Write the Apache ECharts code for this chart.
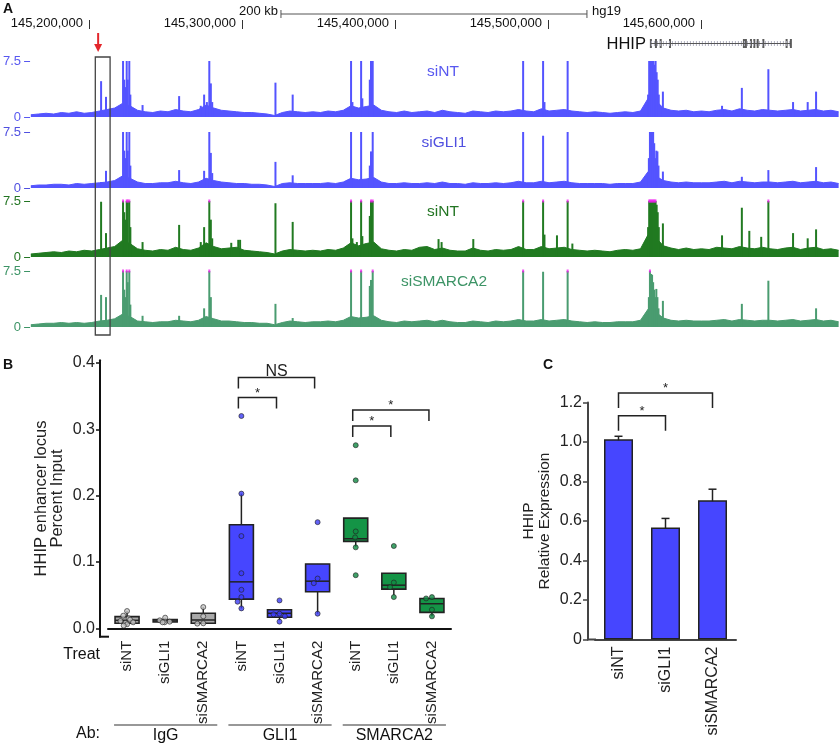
<!DOCTYPE html>
<html><head><meta charset="utf-8">
<script src="https://cdn.jsdelivr.net/npm/echarts@6/dist/echarts.min.js"></script>
<style>html,body{margin:0;padding:0;background:#fff}#c{width:840px;height:745px}</style>
</head><body><div id="c"></div>
<script>
const FONT = '"Liberation Sans", Arial, Helvetica, sans-serif';

// ---------- Panel A data (positions in kb, chr4) ----------
const rulerTicks = [145200, 145300, 145400, 145500, 145600];
const scaleBarStart = 145325.5, scaleBarKb = 200;
const trackNames = ['siNT', 'siGLI1', 'siNT', 'siSMARCA2'];
const noiseStart = 145160, noiseStep = 5;
const noiseT1 = [0.3,0.4,0.5,0.4,0.6,0.5,0.7,0.5,0.6, 0.8,1.0,1.2,1.8,1.5,0.9, 0.7,0.6,0.8,0.7,1.0,0.8, 0.7,1.0,1.6,1.2,0.9,0.8,0.7, 0.6,0.6,0.5,0.4,0.2,0.6, 0.8,0.7,0.6,0.7,0.6,0.8,0.7,0.9, 1.5,1.2,1.4,1.6,0.9, 0.7,0.6,0.8,0.6,0.7,0.8,0.6,0.9, 0.7,0.6,0.5,0.8,0.7,0.6,0.8,0.7,0.8, 1.0,0.8,0.7,1.1,0.8,0.9,1.0,0.8,0.7, 0.6,0.7,0.6,0.5,0.6,0.7,0.6,0.8, 2.5,2.2,1.2,0.9, 0.8,0.9,0.7,0.8,0.7,0.9,1.0,0.8,1.1,0.9,0.8, 1.0,0.9,0.8,0.9,1.0,0.8,0.9,1.0,0.8,0.9,0.7];
const noiseT2 = [0.3,0.4,0.4,0.5,0.5,0.4,0.6,0.5,0.6, 0.7,0.8,1.0,1.6,1.3,0.8, 0.6,0.6,0.7,0.7,0.9,0.7, 0.6,0.8,1.3,1.0,0.8,0.7,0.6, 0.6,0.5,0.5,0.4,0.2,0.6, 0.7,0.6,0.6,0.6,0.6,0.7,0.6,0.8, 1.3,1.1,1.2,1.4,0.8, 0.6,0.6,0.7,0.6,0.6,0.7,0.6,0.8, 0.6,0.6,0.5,0.7,0.6,0.6,0.7,0.6,0.7, 0.9,0.7,0.7,0.9,0.7,0.8,0.9,0.7,0.6, 0.6,0.6,0.6,0.5,0.6,0.6,0.6,0.8, 2.2,1.6,1.0,0.8, 0.7,0.8,0.7,0.7,0.7,0.8,0.9,0.7,0.9,0.8,0.7, 0.8,0.8,0.7,0.8,0.9,0.7,0.8,0.9,0.7,0.8,0.6];
const noiseT3 = [0.4,0.5,0.6,0.7,0.6,0.8,0.7,0.9,0.8, 1.0,1.2,1.4,2.2,1.8,1.1, 0.9,0.8,1.0,0.9,1.3,1.0, 0.9,1.2,1.9,1.4,1.1,1.2,1.3, 0.9,0.8,0.7,0.6,0.4,0.8, 1.0,0.9,0.8,0.9,0.8,1.0,0.9,1.2, 1.9,1.5,1.8,2.0,1.1, 0.9,0.8,1.0,0.9,1.3,1.4,1.0,1.2, 0.9,0.8,0.8,1.2,0.9,0.8,1.0,0.9,1.0, 1.4,1.0,1.0,1.4,1.1,1.2,1.3,1.0,0.9, 0.8,0.9,0.8,0.7,0.9,1.0,0.9,1.1, 3.0,2.6,1.5,1.2, 1.0,1.2,1.0,1.1,1.0,1.3,1.2,1.1,1.4,1.2,1.1, 1.3,1.1,1.0,1.2,1.3,1.0,1.2,1.3,1.0,1.1,0.9];
const noiseT4 = [0.3,0.4,0.5,0.5,0.6,0.5,0.6,0.5,0.6, 0.8,0.9,1.1,1.7,1.4,0.8, 0.7,0.6,0.7,0.7,0.9,0.8, 0.7,0.9,1.4,1.1,0.8,0.8,0.7, 0.6,0.6,0.5,0.5,0.3,0.6, 0.8,0.7,0.6,0.7,0.7,0.8,0.7,0.9, 1.4,1.2,1.3,1.5,0.9, 0.7,0.6,0.8,0.7,0.8,0.9,0.7,0.9, 0.7,0.6,0.6,0.8,0.7,0.6,0.8,0.7,0.8, 1.0,0.8,0.8,1.0,0.8,0.9,1.0,0.8,0.7, 0.6,0.7,0.6,0.6,0.7,0.7,0.7,0.9, 2.4,2.0,1.2,0.9, 0.8,0.9,0.8,0.8,0.8,0.9,1.0,0.8,1.0,0.9,0.8, 0.9,0.9,0.8,0.9,1.0,0.8,0.9,1.0,0.8,0.9,0.7];
// peaks: [position kb, signal]; values above 7.5 are clipped by the 7.5 view limit
const peaksT1 = [[145206.1,4.8],[145209.3,2.7],[145220.5,9],[145221.3,5],[145222.0,4],[145222.9,9],[145223.6,5],[145224.6,9],[145225.3,3],[145233.3,1.6],[145257.3,2.8],[145271.5,1.5],[145273.7,3.0],[145275.5,2.0],[145277.1,9],[145278.1,4.5],[145279,2],[145320.5,4.6],[145331.8,3.0],[145370.1,9],[145371,2],[145376.7,9],[145377.5,2.5],[145382.4,5],[145383.2,9],[145384.3,9],[145483.0,9],[145496.1,9],[145497,2],[145512.2,9],[145565.0,3],[145565.7,9],[145566.4,9],[145567.1,8],[145567.8,9],[145568.5,9],[145569.2,7],[145569.9,9],[145570.6,6],[145571.3,5],[145572,3],[145574.7,3.4],[145613.5,1.5],[145626.5,3.9],[145643.9,6.4],[145660.1,2],[145669.7,2],[145675.2,3.4]];
const peaksT2 = [[145206.1,0.8],[145209.3,2.3],[145220.5,9],[145221.3,5],[145222,4],[145222.9,9],[145223.6,5],[145224.6,9],[145225.3,3],[145257.3,2.4],[145273.7,2.3],[145277.1,9],[145278.1,4.7],[145279,2],[145320.5,3.5],[145331.8,1.7],[145370.1,9],[145376.7,9],[145382.4,3],[145383.2,4.9],[145384.3,9],[145483.0,9],[145496.1,7.0],[145512.2,9],[145565.5,4],[145566.2,9],[145566.9,9],[145567.6,9],[145568.3,9],[145569,6],[145569.7,4],[145570.4,5],[145571.1,4.9],[145571.8,3],[145574.7,2.2],[145626.5,1.5],[145643.9,2.4],[145675.2,2.8]];
const peaksT3 = [[145206.1,7.4],[145209.3,3.2],[145220.5,10],[145221.3,6],[145222,5],[145222.9,10],[145223.6,10],[145224.6,10],[145225.3,4],[145233.3,2.0],[145257.3,4.3],[145271.5,2.0],[145273.7,4.0],[145277.1,10],[145278.1,5],[145279,2.5],[145291.5,1.9],[145296.1,2.3],[145297.3,2.3],[145320.5,7.2],[145331.8,4.7],[145370.1,10],[145371,2.5],[145373.9,2.0],[145376.7,10],[145377.5,2.8],[145382.4,5.5],[145383.2,10],[145384.3,10],[145427.5,2.4],[145429.5,2.0],[145450.3,2.4],[145483.0,10],[145496.1,10],[145497,3],[145505.2,2.9],[145512.2,10],[145515.3,1.8],[145565,4],[145565.7,10],[145566.4,10],[145567.1,9],[145567.8,10],[145568.5,10],[145569.2,8],[145569.9,10],[145570.6,7],[145571.3,6],[145572,4],[145574.7,4.5],[145613.5,2.9],[145626.5,6.6],[145631.4,3.5],[145639.2,2.7],[145643.9,10],[145660.1,3.2],[145669.7,2.5],[145675.2,3.7]];
const peaksT4 = [[145206.1,4.3],[145209.3,4.0],[145220.5,10],[145221.3,5],[145222,4],[145222.9,10],[145223.6,6],[145224.6,10],[145225.3,3],[145233.3,1.5],[145257.3,1.5],[145273.7,2.5],[145277.1,10],[145278.1,4],[145320.5,3.1],[145331.8,1.2],[145370.1,10],[145376.7,10],[145382.4,5.5],[145383.2,6.3],[145384.3,10],[145483.0,10],[145496.1,7.4],[145512.2,10],[145565.5,4],[145566.2,10],[145566.9,7.1],[145567.6,7],[145568.3,6],[145569,5],[145569.7,4],[145570.4,5.1],[145571.1,4],[145571.8,2.5],[145574.7,3.5],[145626.5,3.1],[145643.9,6.2],[145675.2,2.5]];
const geneName = 'HHIP';
const geneHHIP = [145567.3, 145658.8];
const hhipExons = [145567.3,145570.6,145573.7,145579.8,145628.1,145629.4,145632.7,145634.9,145637.1,145640.8,145656.0,145658.8];
const arrowPos = 145206;
const boxRange = [145202.3, 145212];

// ---------- Panel B data ----------
const treatCats = ['siNT','siGLI1','siSMARCA2','siNT','siGLI1','siSMARCA2','siNT','siGLI1','siSMARCA2'];
const abGroups = ['IgG','GLI1','SMARCA2'];
// [min, Q1, median, Q3, max]
const boxStats = [
  [0.004,0.0075,0.012,0.0175,0.026],
  [0.009,0.0095,0.011,0.013,0.016],
  [0.007,0.0075,0.0125,0.0226,0.032],
  [0.030,0.044,0.070,0.156,0.203],
  [0.012,0.0166,0.0226,0.028,0.028],
  [0.022,0.055,0.071,0.097,0.097],
  [0.123,0.131,0.135,0.166,0.166],
  [0.050,0.059,0.065,0.083,0.083],
  [0.018,0.024,0.037,0.045,0.046]
];
const pointsB = [
  [0.026,0.019,0.015,0.013,0.011,0.009,0.008,0.006,0.004],
  [0.016,0.012,0.010,0.009,0.009],
  [0.032,0.018,0.0075,0.007],
  [0.320,0.203,0.139,0.083,0.058,0.047,0.040,0.030],
  [0.042,0.022,0.021,0.018,0.010],
  [0.160,0.075,0.068,0.022],
  [0.276,0.223,0.146,0.137,0.122,0.080],
  [0.124,0.069,0.062,0.047],
  [0.047,0.045,0.028,0.018]
];
const bracketsB = [[3,4,0.348],[3,5,0.378],[6,7,0.305],[6,8,0.329]];
const bracketLabelsB = ['*','NS','*','*'];

// ---------- Panel C data ----------
const exprCats = ['siNT','siGLI1','siSMARCA2'];
const exprVals = [1.014, 0.567, 0.705];
const exprErr = [0.015, 0.046, 0.056];
const bracketsC = [[0,1,1.133],[0,2,1.248]];
const bracketLabelsC = ['*','*'];

// ---------- styles ----------
const XMIN = 145159.5, XMAX = 145690.9;
const trackTops = [61,132,201,271], trackH = 56;
const trackColors = ['#5454ff','#5454ff','#217a21','#4a9c70'];
const trackLabelColors = ['#5858f0','#5050e0','#237523','#3d9466'];
const boxColors = ['#a9a9a9','#4646ff','#149446'];
const ptColors = ['#c4c4c4','#3b3bf5','#0f8a42'];

const chart = echarts.init(document.getElementById('c'));

const grids = [
  {left:27, width:813, top:28, height:1},
  {left:27, width:813, top:39, height:9},
  ...trackTops.map(t => ({left:27, width:813, top:t, height:trackH})),
  {left:108, width:343, top:360.3, height:276.4},
  {left:595, width:141, top:402.5, height:237}
];
const xAxes = [
  {gridIndex:0, type:'value', min:XMIN, max:XMAX, position:'top', axisLine:{show:false}, splitLine:{show:false},
   axisTick:{show:true, customValues:rulerTicks, length:9, lineStyle:{color:'#333'}},
   axisLabel:{customValues:rulerTicks, formatter:v => Math.round(v*1000).toLocaleString('en-US'), align:'right', verticalAlign:'middle', padding:[0,6,0,0], margin:5, fontSize:13, color:'#111', fontFamily:FONT}},
  {gridIndex:1, type:'value', min:XMIN, max:XMAX, show:false},
  ...[2,3,4,5].map(g => ({gridIndex:g, type:'value', min:XMIN, max:XMAX, show:false})),
  {gridIndex:6, type:'category', data:treatCats, jitter:14, jitterOverlap:false, jitterMargin:1,
   axisLine:{lineStyle:{color:'#111', width:2}}, axisTick:{show:false},
   axisLabel:{rotate:90, margin:4, fontSize:15, color:'#222', fontFamily:FONT, interval:0}},
  {gridIndex:7, type:'category', data:exprCats,
   axisLine:{lineStyle:{color:'#444', width:2}}, axisTick:{show:false},
   axisLabel:{rotate:90, margin:7, fontSize:16, color:'#222', fontFamily:FONT, interval:0}}
];
const yAxes = [
  {gridIndex:0, type:'value', show:false},
  {gridIndex:1, type:'value', min:0, max:1, show:false},
  ...[0,1,2,3].map(k => ({gridIndex:k+2, type:'value', min:0, max:7.5, interval:7.5,
    axisLine:{show:false}, splitLine:{show:false},
    axisTick:{show:true, length:6, lineStyle:{color:trackLabelColors[k]}},
    axisLabel:{fontSize:13, margin:9, color:trackLabelColors[k], fontFamily:FONT}})),
  {gridIndex:6, type:'value', min:-0.0127, max:0.404, offset:8,
   axisLine:{show:true, lineStyle:{color:'#111', width:2}}, splitLine:{show:false},
   axisTick:{show:true, customValues:[0,0.1,0.2,0.3,0.4], length:4, lineStyle:{color:'#111', width:1.5}},
   axisLabel:{customValues:[0,0.1,0.2,0.3,0.4], formatter:v => v.toFixed(1), fontSize:16, margin:5, color:'#222', fontFamily:FONT},
   name:'HHIP enhancer locus\nPercent Input', nameLocation:'middle', nameGap:35,
   nameTextStyle:{fontSize:16.5, lineHeight:16, color:'#222', fontFamily:FONT}},
  {gridIndex:7, type:'value', min:0, max:1.2, interval:0.2, offset:7,
   axisLine:{show:true, lineStyle:{color:'#444', width:2}}, splitLine:{show:false},
   axisTick:{show:true, length:5, lineStyle:{color:'#444', width:1.5}},
   axisLabel:{formatter:v => v === 0 ? '0' : v.toFixed(1), fontSize:16, margin:6, color:'#222', fontFamily:FONT},
   name:'HHIP\nRelative Expression', nameLocation:'middle', nameGap:35,
   nameTextStyle:{fontSize:15.5, lineHeight:16, color:'#222', fontFamily:FONT}}
];

const series = [];
const noises = [noiseT1, noiseT2, noiseT3, noiseT4];
const peaks = [peaksT1, peaksT2, peaksT3, peaksT4];
for (let k = 0; k < 4; k++) {
  series.push({type:'line', xAxisIndex:k+2, yAxisIndex:k+2, silent:true, z:2, symbol:'none',
    data:noises[k].map((v,i) => [noiseStart + i*noiseStep, v]),
    lineStyle:{color:trackColors[k], width:1}, areaStyle:{color:trackColors[k], opacity:1}});
  series.push({type:'bar', xAxisIndex:k+2, yAxisIndex:k+2, silent:true, z:3, barWidth:2,
    data:peaks[k].map(p => [p[0], Math.min(p[1], 7.5)]), itemStyle:{color:trackColors[k]}});
  if (k >= 2) {
    series.push({type:'scatter', xAxisIndex:k+2, yAxisIndex:k+2, silent:true, z:4, symbol:'rect', symbolSize:[2,3],
      data:peaks[k].filter(p => p[1] > 7.5).map(p => [p[0], 7.5]), itemStyle:{color:'#f020f0'}});
  }
}
// gene model
series.push({type:'line', xAxisIndex:1, yAxisIndex:1, silent:true, symbol:'none',
  data:[[geneHHIP[0],0.5],[geneHHIP[1],0.5]], lineStyle:{color:'#b0b0c0', width:5, type:[1,2]}});
series.push({type:'line', xAxisIndex:1, yAxisIndex:1, silent:true, symbol:'none',
  data:[[geneHHIP[0],0.5],[geneHHIP[1],0.5]], lineStyle:{color:'#555', width:1}});
series.push({type:'scatter', xAxisIndex:1, yAxisIndex:1, silent:true, symbol:'rect', symbolSize:[2,9],
  data:hhipExons.map(p => [p,0.5]), itemStyle:{color:'#333'}});

// Panel B
series.push({type:'custom', xAxisIndex:6, yAxisIndex:6, z:2, silent:true,
  data:boxStats.map((b,i) => [i, ...b]), encode:{x:0, y:[1,2,3,4,5]},
  renderItem:function(params, api){
    const i = api.value(0);
    const x = api.coord([i, 0])[0];
    const c = v => api.coord([i, v])[1];
    const yMin = c(api.value(1)), yQ1 = c(api.value(2)), yMed = c(api.value(3)), yQ3 = c(api.value(4)), yMax = c(api.value(5));
    const hw = 12;
    return {type:'group', children:[
      {type:'line', shape:{x1:x, y1:yMax, x2:x, y2:yMin}, style:{stroke:'#222', lineWidth:1.5}},
      {type:'rect', shape:{x:x-hw, y:yQ3, width:2*hw, height:Math.max(yQ1-yQ3,1)}, style:{fill:boxColors[Math.floor(i/3)], stroke:'#222', lineWidth:1.6}},
      {type:'line', shape:{x1:x-hw, y1:yMed, x2:x+hw, y2:yMed}, style:{stroke:'#222', lineWidth:1.5}}
    ]};
  }});
const ptsData = [];
pointsB.forEach((arr,i) => arr.forEach(v => ptsData.push([i, v])));
series.push({type:'scatter', xAxisIndex:6, yAxisIndex:6, z:3, silent:true, symbolSize:5,
  data:ptsData, itemStyle:{color:p => ptColors[Math.floor(p.data[0]/3)], borderColor:'#222', borderWidth:0.8}});
function bracketRenderer(labels, leg, dx){
  return function(params, api){
    const x1 = api.coord([api.value(0), 0])[0] + dx;
    const x2 = api.coord([api.value(1), 0])[0] + dx;
    const y = api.coord([api.value(0), api.value(2)])[1];
    const lab = labels[params.dataIndex];
    return {type:'group', children:[
      {type:'polyline', shape:{points:[[x1,y+leg],[x1,y],[x2,y],[x2,y+leg]]}, style:{stroke:'#222', lineWidth:1.5, fill:'none'}},
      {type:'text', x:(x1+x2)/2, y:y+2, style:{text:lab, fontSize:lab==='*'?13:16, fill:'#222', align:'center', verticalAlign:'bottom', fontFamily:FONT}}
    ]};
  };
}
series.push({type:'custom', xAxisIndex:6, yAxisIndex:6, clip:false, silent:true, z:4,
  data:bracketsB, encode:{x:[0,1], y:2}, renderItem:bracketRenderer(bracketLabelsB, 11, -3)});

// Panel C
series.push({type:'bar', xAxisIndex:7, yAxisIndex:7, barWidth:29, silent:true, z:2,
  data:exprVals, itemStyle:{color:'#4646ff', borderColor:'#222', borderWidth:1.5}});
series.push({type:'custom', xAxisIndex:7, yAxisIndex:7, silent:true, z:3,
  data:exprVals.map((v,i) => [i, v, v + exprErr[i]]), encode:{x:0, y:[1,2]},
  renderItem:function(params, api){
    const p0 = api.coord([api.value(0), api.value(1)]);
    const p1 = api.coord([api.value(0), api.value(2)]);
    return {type:'group', children:[
      {type:'line', shape:{x1:p0[0], y1:p0[1]+1, x2:p1[0], y2:p1[1]}, style:{stroke:'#222', lineWidth:1.5}},
      {type:'line', shape:{x1:p1[0]-4, y1:p1[1], x2:p1[0]+4, y2:p1[1]}, style:{stroke:'#222', lineWidth:1.5}}
    ]};
  }});
series.push({type:'custom', xAxisIndex:7, yAxisIndex:7, clip:false, silent:true, z:4,
  data:bracketsC, encode:{x:[0,1], y:2}, renderItem:bracketRenderer(bracketLabelsC, 15, 0)});

chart.setOption({animation:false, backgroundColor:'#fff', grid:grids, xAxis:xAxes, yAxis:yAxes, series:series});

// ---------- annotations positioned through the axes ----------
const px = (ax, v) => chart.convertToPixel({xAxisIndex:ax}, v);
const T = (text, x, y, o) => ({type:'text', x, y, silent:true, style:Object.assign({text, fontSize:14, fontFamily:FONT, fill:'#111', align:'left', verticalAlign:'middle'}, o||{})});
const g = [];
g.push(T('A', 3, 9, {fontWeight:'bold', fontSize:14}));
g.push(T('B', 3, 365, {fontWeight:'bold', fontSize:14}));
g.push(T('C', 543, 365, {fontWeight:'bold', fontSize:14}));
// scale bar
const sb1 = px(0, scaleBarStart), sb2 = px(0, scaleBarStart + scaleBarKb);
g.push(T(scaleBarKb + ' kb', sb1 - 3, 11, {align:'right', fontSize:13}));
g.push({type:'line', silent:true, shape:{x1:sb1, y1:14, x2:sb2, y2:14}, style:{stroke:'#555', lineWidth:1}});
g.push({type:'line', silent:true, shape:{x1:sb1, y1:10, x2:sb1, y2:18}, style:{stroke:'#555', lineWidth:1}});
g.push({type:'line', silent:true, shape:{x1:sb2, y1:10, x2:sb2, y2:18}, style:{stroke:'#555', lineWidth:1}});
g.push(T('hg19', sb2 + 5, 11, {fontSize:13}));
// gene label
g.push(T(geneName, px(1, geneHHIP[0]) - 5, 44, {align:'right', fontSize:16.5}));
// red arrow
const ax = px(0, arrowPos);
g.push({type:'line', silent:true, shape:{x1:ax, y1:33, x2:ax, y2:46}, style:{stroke:'#e3262b', lineWidth:2}});
g.push({type:'polygon', silent:true, shape:{points:[[ax-4,44],[ax+4,44],[ax,52]]}, style:{fill:'#e3262b'}});
// highlight box
const b1 = px(2, boxRange[0]), b2 = px(2, boxRange[1]);
g.push({type:'rect', silent:true, shape:{x:b1, y:57, width:b2-b1, height:278}, style:{fill:'none', stroke:'#444', lineWidth:1.3}, z:100});
// track labels
const tlx = [443, 444, 443, 444];
trackNames.forEach((n,k) => g.push(T(n, tlx[k], trackTops[k] + 11, {align:'center', fontSize:15.5, fill:trackLabelColors[k]})));
// panel B extras
g.push(T('Treat', 100, 655, {align:'right', fontSize:16}));
g.push(T('Ab:', 100, 734, {align:'right', fontSize:16}));
abGroups.forEach((name, j) => {
  const xa = px(6, j*3) - 13, xb = px(6, j*3+2) + 14;
  g.push({type:'line', silent:true, shape:{x1:xa, y1:725, x2:xb, y2:725}, style:{stroke:'#333', lineWidth:1.2}});
  g.push(T(name, (xa+xb)/2, 736, {align:'center', fontSize:16}));
});
g.push({type:'line', silent:true, shape:{x1:99, y1:636.7, x2:109, y2:636.7}, style:{stroke:'#111', lineWidth:2}});
g.push({type:'line', silent:true, shape:{x1:587, y1:639.5, x2:596, y2:639.5}, style:{stroke:'#444', lineWidth:2}});
chart.setOption({graphic:{elements:g}});
</script>
</body></html>
